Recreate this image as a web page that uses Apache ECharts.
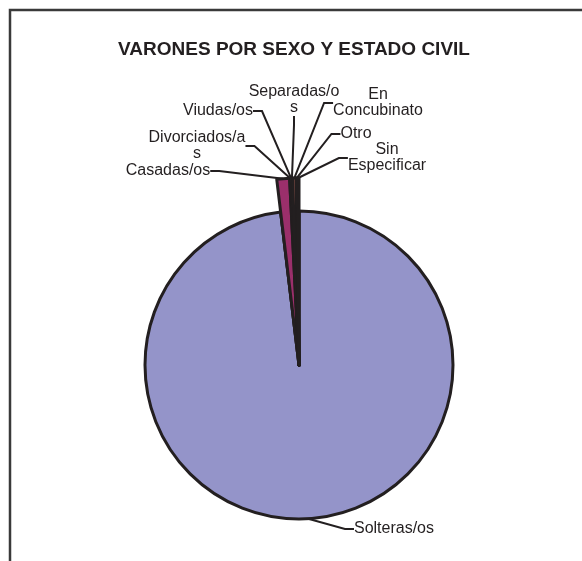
<!DOCTYPE html>
<html>
<head>
<meta charset="utf-8">
<script src="https://cdn.jsdelivr.net/npm/echarts@6/dist/echarts.min.js"></script>
<style>
  html, body { margin: 0; padding: 0; background: #ffffff; }
  #chart { width: 582px; height: 561px; }
</style>
</head>
<body>
<div id="chart"></div>
<script>
// ---- data ----
const titleText = 'VARONES POR SEXO Y ESTADO CIVIL';
const categories = ['Solteras/os', 'Casadas/os', 'Divorciados/as', 'Viudas/os', 'Separadas/os', 'En Concubinato', 'Otro', 'Sin Especificar'];
const labelTexts = ['Solteras/os', 'Casadas/os', 'Divorciados/a\ns', 'Viudas/os', 'Separadas/o\ns', 'En\nConcubinato', 'Otro', 'Sin\nEspecificar'];
const values = [98.1, 1.1, 0.1, 0.05, 0.1, 0.3, 0.1, 0.15];

// ---- styling / layout (not data) ----
const colors = ['#9494c9', '#9b2f6b', '#ffffcc', '#ccffff', '#660066', '#e8806f', '#0066cc', '#ccccff'];
const labelCenters = [[394, 529], [168, 171], [197, 146], [218, 111], [294, 100], [378, 103], [356, 134], [387, 158]];
const center = [299, 365];
const ink = '#231f20';
const font = 'Liberation Sans, Arial, sans-serif';

const chart = echarts.init(document.getElementById('chart'), null, { renderer: 'canvas' });

const baseData = categories.map((c, i) => ({
  name: c,
  value: values[i],
  itemStyle: { color: colors[i] },
  label: { show: i === 0 },
  labelLine: { show: i === 0 }
}));

const topData = categories.map((c, i) => i === 0 ? ({
  name: c,
  value: values[i],
  itemStyle: { color: 'rgba(0,0,0,0)', borderWidth: 0 },
  label: { show: false },
  labelLine: { show: false }
}) : ({
  name: c,
  value: values[i],
  itemStyle: { color: colors[i] }
}));

function layoutFn(params) {
  const p = labelCenters[params.dataIndex];
  return { x: p[0], y: p[1], align: 'center', verticalAlign: 'middle' };
}

const commonLabel = {
  show: true,
  formatter: (p) => labelTexts[p.dataIndex],
  color: ink,
  fontFamily: font,
  fontSize: 16,
  lineHeight: 16,
  align: 'center'
};
const commonLine = {
  show: true,
  length: 10,
  length2: 9,
  smooth: false,
  lineStyle: { color: ink, width: 2 }
};

chart.setOption({
  animation: false,
  backgroundColor: '#ffffff',
  title: {
    text: titleText,
    left: 289,
    top: 35,
    textAlign: 'center',
    textStyle: { color: ink, fontFamily: font, fontWeight: 'bold', fontSize: 19 }
  },
  graphic: [{
    type: 'rect',
    shape: { x: 10, y: 10, width: 640, height: 640 },
    style: { fill: 'none', stroke: '#3a3a3a', lineWidth: 2.5 },
    silent: true
  }],
  series: [
    {
      type: 'pie',
      z: 2,
      center: center,
      radius: 154,
      startAngle: 90,
      clockwise: true,
      avoidLabelOverlap: false,
      silent: true,
      itemStyle: { borderColor: ink, borderWidth: 3 },
      label: commonLabel,
      labelLine: commonLine,
      labelLayout: layoutFn,
      emphasis: { disabled: true },
      data: baseData
    },
    {
      type: 'pie',
      z: 3,
      center: center,
      radius: 187,
      startAngle: 90,
      clockwise: true,
      avoidLabelOverlap: false,
      silent: true,
      itemStyle: { borderColor: ink, borderWidth: 3 },
      label: commonLabel,
      labelLine: commonLine,
      labelLayout: layoutFn,
      emphasis: { disabled: true },
      data: topData
    }
  ]
});
</script>
</body>
</html>
